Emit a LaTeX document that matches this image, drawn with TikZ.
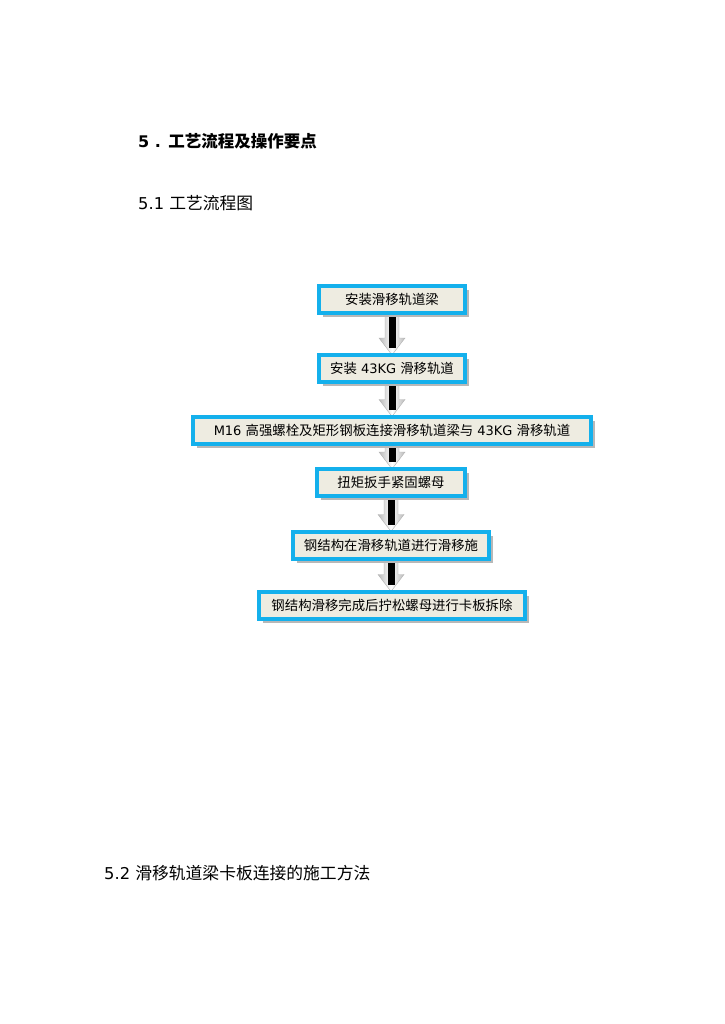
\documentclass[tikz,border=0pt]{standalone}
\usepackage{fontspec}
\setmainfont{DejaVu Sans}
\newfontfamily\cjk[Scale=1.03]{Noto Sans CJK SC}
\usetikzlibrary{calc,shadows,backgrounds}
\definecolor{cyanb}{RGB}{20,176,236}
\definecolor{boxfill}{RGB}{238,236,225}
\tikzset{
  flowbox/.style={draw=cyanb, line width=4pt, fill=boxfill, minimum height=27pt,
    inner sep=0pt, font=\fontsize{13}{15}\selectfont,
    drop shadow={shadow xshift=4pt, shadow yshift=-4pt, fill=black!28, opacity=1}},
  heading/.style={anchor=west, inner sep=0pt, font=\fontsize{16.3}{18}\selectfont}
}
\newcommand\blkarrow[2]{%
  \shade[left color=gray!55, right color=gray!55, middle color=white, draw=gray!60, line width=0.4pt]
    let \p1=(#1.south), \p2=(#2.north) in
    (\x1-7pt,\y1) -- (\x1-7pt,\y2+15pt) -- (\x1-13pt,\y2+15pt) -- (\x1,\y2-2pt)
    -- (\x1+13pt,\y2+15pt) -- (\x1+7pt,\y2+15pt) -- (\x1+7pt,\y1) -- cycle;
  \fill[black] let \p1=(#1.south), \p2=(#2.north) in
    (\x1-3.5pt,\y1) rectangle (\x1+3.5pt,\y2+5pt);
}
\begin{document}
\begin{tikzpicture}[x=1pt,y=-1pt]
\useasboundingbox (0,0) rectangle (724,1024);

\node[heading, font=\fontsize{16}{18}\selectfont\bfseries] (h1) at (138,141) {5 . {\cjk\bfseries 工艺流程及操作要点}};
\node[heading] (h2) at (138,203) {5.1 {\cjk 工艺流程图}};
\node[heading] (h3) at (104,873) {5.2 {\cjk 滑移轨道梁卡板连接的施工方法}};

\node[flowbox, minimum width=146pt] (b1) at (392,299) {\cjk 安装滑移轨道梁};
\node[flowbox, minimum width=146pt] (b2) at (392,368.5) {{\cjk 安装} 43KG {\cjk 滑移轨道}};
\node[flowbox, minimum width=398pt] (b3) at (392,430) {M16 {\cjk 高强螺栓及矩形钢板连接滑移轨道梁与} 43KG {\cjk 滑移轨道}};
\node[flowbox, minimum width=148pt] (b4) at (391,482.5) {\cjk 扭矩扳手紧固螺母};
\node[flowbox, minimum width=196pt] (b5) at (391,545) {\cjk 钢结构在滑移轨道进行滑移施};
\node[flowbox, minimum width=266pt] (b6) at (392,605) {\cjk 钢结构滑移完成后拧松螺母进行卡板拆除};

\begin{pgfonlayer}{background}
\fill[white] (0,0) rectangle (724,1024);
\blkarrow{b1}{b2}
\blkarrow{b2}{b3}
\blkarrow{b3}{b4}
\blkarrow{b4}{b5}
\blkarrow{b5}{b6}
\end{pgfonlayer}
\end{tikzpicture}
\end{document}
